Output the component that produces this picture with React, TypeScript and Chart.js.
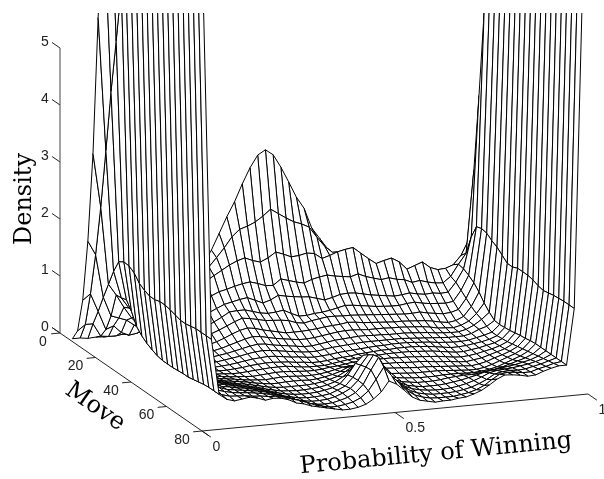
import React, { useEffect, useRef } from "react";
import { Chart, registerables } from "chart.js";

Chart.register(...registerables);

const MOVES = [7, 9.9, 12.8, 15.7, 18.6, 21.5, 24.4, 27.3, 30.2, 33.1, 36, 38.9, 41.8, 44.7, 47.6, 50.5, 53.4, 56.3, 59.2, 62.1, 65, 67.9, 70.8, 73.7, 76.6];
const PROBS = [0, .02, .04, .06, .08, .1, .12, .14, .16, .18, .2, .22, .24, .26, .28, .3, .32, .34, .36, .38, .4, .42, .44, .46, .48, .5, .52, .54, .56, .58, .6, .62, .64, .66, .68, .7, .72, .74, .76, .78, .8, .82, .84, .86, .88, .9, .92, .94, .96, .98, 1];

// density x 100, one list per move
const d00 = [5,5,3,4,3,4,5,7,10,14, 20,27,36,48,62,77,95,115,137,165, 193,218,248,275,296,304,294,271,244,216, 195,159,140,121,105,85,70,55,42,32, 25,18,13,9,6,5,5,8,15,30, 35];
const d01 = [25,35,35,12,10,10,12,15,20,27, 34,43,53,64,76,88,100,115,130,146, 164,176,180,186,195,206,197,188,180,175, 168,149,132,120,110,100,90,78,66,55, 45,37,30,24,20,18,18,25,30,55, 80];
const d02 = [85,95,63,30,35,22,16,18,23,30, 38,47,57,67,78,88,98,106,114,122, 128,132,126,122,128,137,132,126,127,130, 128,118,122,127,130,132,121,110,100,104, 107,99,85,90,95,84,79,80,85,100, 126];
const d03 = [195,170,94,60,55,50,40,30,22,23, 29,36,44,52,61,70,78,84,87,91, 94,96,92,87,86,96,92,88,85,90, 93,95,92,90,88,92,86,82,78,80, 76,74,68,70,66,63,62,72,92,110, 255];
const d04 = [355,260,123,103,80,60,45,32,22,20, 24,30,36,42,49,56,62,68,71,74, 76,70,64,68,75,72,70,68,67,63, 59,62,66,67,66,63,60,58,56,54, 55,57,54,52,53,51,52,68,90,145, 392];
const d05 = [600,365,152,104,85,70,52,38,25,18, 20,24,28,33,39,46,53,61,62,62, 58,54,52,53,55,48,42,42,44,45, 47,50,53,52,50,48,46,45,44,44, 46,47,44,42,41,40,42,60,85,169, 545];
const d06 = [800,475,175,107,85,68,52,38,26,17, 17,20,24,28,33,38,44,50,55,53, 50,47,46,45,43,38,36,39,41,43, 43,42,42,41,40,39,38,37,36,35, 35,36,33,31,29,30,34,52,78,172, 560];
const d07 = [950,570,181,92,75,60,45,33,22,15, 14,15,18,21,25,30,36,41,44,42, 38,35,32,29,29,29,30,31,33,34, 35,37,36,34,33,32,31,30,30,29, 28,27,25,22,20,22,28,44,68,170, 565];
const d08 = [1000,670,180,72,62,52,40,30,18,13, 12,13,15,17,20,24,28,32,35,34, 31,28,26,24,22,22,23,25,27,29, 30,30,29,28,28,28,27,27,26,25, 24,22,19,18,17,20,26,38,55,163, 571];
const d09 = [1050,655,174,62,56,50,32,21,15,12, 11,11,13,15,17,20,23,26,28,27, 24,22,20,18,16,16,18,20,22,23, 24,25,25,24,24,23,23,23,22,21, 20,18,17,16,16,19,25,34,45,158, 577];
const d10 = [1100,662,162,55,50,46,28,19,14,11, 10,10,11,13,15,17,20,22,23,22, 20,18,16,14,13,13,15,17,18,19, 20,21,21,21,21,21,21,20,19,18, 17,16,15,15,15,18,24,28,37,150, 583];
const d11 = [1100,668,156,50,46,42,26,18,14,11, 10,9,10,11,13,15,17,18,19,18, 16,14,13,11,10,11,12,14,15,16, 17,18,19,19,20,20,20,19,18,17, 15,14,13,13,14,17,20,24,36,142, 590];
const d12 = [1100,675,152,46,42,39,25,18,15,12, 10,9,9,10,11,13,14,15,15,14, 13,11,10,8,8,9,11,12,13,15, 16,17,18,18,19,19,19,18,17,15, 13,11,11,12,14,16,19,24,37,142, 596];
const d13 = [1100,680,152,44,41,38,25,20,16,13, 11,10,9,9,10,11,12,13,13,13, 11,9,8,8,8,10,12,14,15,16, 17,17,18,18,18,18,17,16,15,13, 11,9,9,11,13,16,19,25,38,146, 602];
const d14 = [1100,687,155,44,41,38,26,22,18,15, 13,11,10,9,8,9,10,11,11,10, 9,8,8,9,11,12,14,16,17,17, 17,17,17,16,16,15,14,13,12,10, 8,7,8,10,13,16,20,26,40,146, 608];
const d15 = [1100,693,155,44,41,38,28,24,20,17, 15,13,11,9,8,7,8,9,9,8, 7,7,8,10,13,16,17,18,17,17, 16,15,15,14,13,13,12,10,9,8, 6,5,7,9,13,17,21,28,42,146, 615];
const d16 = [1100,700,153,45,42,39,30,26,22,19, 17,15,13,10,8,6,6,7,7,7, 6,7,9,12,16,22,20,20,18,16, 14,13,12,11,10,10,9,8,7,6, 5,4,6,9,14,18,23,30,43,144, 621];
const d17 = [1100,706,150,46,43,40,32,28,25,22, 19,17,14,11,8,6,5,5,5,5, 6,8,11,15,22,30,24,21,18,14, 11,10,9,8,8,8,8,7,6,5, 4,4,6,10,15,20,25,32,45,140, 627];
const d18 = [1100,712,147,46,43,41,34,31,28,25, 22,19,16,12,9,6,5,4,4,5, 6,9,13,20,31,42,32,25,18,13, 10,8,7,6,6,6,7,7,7,6, 6,7,9,12,17,22,27,34,46,138, 633];
const d19 = [1100,718,147,48,45,42,36,34,31,28, 25,22,18,14,10,7,5,4,4,5, 7,10,16,30,49,62,42,29,20,14, 9,7,5,5,5,6,8,9,10,10, 11,13,15,18,22,26,30,36,46,140, 640];
const d20 = [1100,725,149,50,47,44,38,36,33,31, 28,25,21,16,11,8,5,4,4,5, 7,12,18,32,52,69,48,33,22,15, 9,6,4,4,4,5,7,9,12,15, 19,21,23,25,27,30,33,38,46,142, 646];
const d21 = [1100,731,151,52,48,44,39,37,35,33, 31,28,24,19,14,9,6,4,4,5, 8,13,20,33,55,75,52,36,24,15, 9,6,4,3,3,4,6,9,13,18, 24,27,28,29,31,33,36,40,46,143, 652];
const d22 = [1100,737,151,53,47,43,40,38,37,35, 33,30,27,23,18,13,8,5,4,5, 8,12,19,32,56,77,53,36,23,14, 8,5,3,3,3,4,6,9,14,20, 28,31,32,31,32,35,38,42,46,144, 658];
const d23 = [1100,743,151,53,45,41,40,39,37,36, 34,33,30,26,22,17,12,8,5,5, 7,10,16,27,46,66,50,35,21,12, 7,4,3,3,3,5,7,11,17,26, 34,36,35,33,33,37,40,44,46,144, 664];
const d24 = [1100,723,151,53,43,39,41,43,40,35, 37,36,32,25,22,17,14,11,8,5, 5,7,11,19,30,48,41,29,16,9, 6,3,4,4,6,7,11,16,24,33, 39,38,36,33,34,39,43,46,46,144, 670];
const DENSITY = [d00,d01,d02,d03,d04,d05,d06,d07,d08,d09,d10,d11,d12,d13,d14,d15,d16,d17,d18,d19,d20,d21,d22,d23,d24];

const DENSITY_TICKS = [0, 1, 2, 3, 4, 5];
const MOVE_TICKS = [0, 20, 40, 60, 80];
const PROB_TICKS = [0, 0.5, 1];
const PROB_TICK_TEXT = ["0", "0.5", "1"];

const pt = (p: number, m: number, z: number) => ({
  x: 60 + 1.775 * m + 386 * p,
  y: 333 + 1.225 * m - 37 * p - 57 * z,
});

const seg = (a: any, b: any, color = "#000") => ({
  data: [a, b],
  showLine: true,
  borderColor: color,
  borderWidth: 1,
  pointRadius: 0,
  fill: false,
  clip: 0,
});

function buildDatasets() {
  const out: any[] = [];
  const axis = "#222";
  out.push(seg(pt(0, 0, 0), pt(0, 0, 5), "#444"));
  out.push(seg(pt(0, -4.5, 0), pt(0, 84, 0), axis));
  out.push(seg(pt(0, 80, 0), pt(1, 80, 0), axis));
  DENSITY_TICKS.forEach((z) => out.push(seg(pt(0, 0, z), pt(0, -4.5, z), axis)));
  MOVE_TICKS.forEach((m) => out.push(seg(pt(0, m, 0), pt(-0.023, m, 0), axis)));
  PROB_TICKS.forEach((p) => out.push(seg(pt(p, 80, 0), pt(p, 85, 0), axis)));
  // nearest cells first: Chart.js paints the last dataset first
  for (let i = MOVES.length - 2; i >= 0; i--) {
    for (let j = 0; j < PROBS.length - 1; j++) {
      const c = (a: number, b: number) => pt(PROBS[b], MOVES[a], DENSITY[a][b] / 100);
      out.push({
        data: [c(i, j), c(i, j + 1), c(i + 1, j + 1), c(i + 1, j), c(i, j)],
        showLine: true,
        borderColor: "#000",
        borderWidth: 1,
        backgroundColor: "#fff",
        fill: "shape",
        pointRadius: 0,
        tension: 0,
        clip: 0,
      });
    }
  }
  return out;
}

const textPlugin = {
  id: "labels3d",
  afterDraw(chart: any) {
    const ctx = chart.ctx;
    ctx.save();
    ctx.fillStyle = "#222";
    ctx.textAlign = "center";
    ctx.textBaseline = "middle";
    ctx.font = "14px 'Liberation Sans'";
    DENSITY_TICKS.forEach((z) => {
      const a = pt(0, 0, z);
      ctx.fillText(String(z), a.x - 15, a.y - 6);
    });
    MOVE_TICKS.forEach((m) => {
      const a = pt(0, m, 0);
      ctx.fillText(String(m), a.x - 20 + (m === 0 ? 3 : 0), a.y + 9);
    });
    ctx.textAlign = "left";
    PROB_TICKS.forEach((p, k) => {
      const a = pt(p, 80, 0);
      ctx.fillText(PROB_TICK_TEXT[k], a.x + 10.5, a.y + 16);
    });
    ctx.textAlign = "center";
    ctx.fillStyle = "#000";
    const rot = (t: string, x: number, y: number, deg: number, font: string) => {
      ctx.save();
      ctx.translate(x, y);
      ctx.rotate((deg * Math.PI) / 180);
      ctx.font = font;
      ctx.fillText(t, 0, 0);
      ctx.restore();
    };
    rot("Density", 25, 199, -90, "24px 'DejaVu Serif'");
    rot("Move", 95, 407, 35, "24px 'DejaVu Serif'");
    rot("Probability of Winning", 436, 454, -5.5, "24px 'DejaVu Serif'");
    ctx.restore();
  },
};

export default function App() {
  const ref = useRef<HTMLCanvasElement | null>(null);
  useEffect(() => {
    const chart = new Chart(ref.current as HTMLCanvasElement, {
      type: "scatter",
      data: { datasets: buildDatasets() },
      options: {
        animation: false,
        responsive: false,
        events: [],
        layout: { padding: { top: 13, left: 0, right: 0, bottom: 0 } },
        scales: {
          x: { type: "linear", min: 0, max: 604, display: false },
          y: { type: "linear", min: 13, max: 479, reverse: true, display: false },
        },
        plugins: { legend: { display: false }, tooltip: { enabled: false }, title: { display: false } },
      },
      plugins: [textPlugin],
    } as any);
    return () => chart.destroy();
  }, []);
  return (
    <div style={{ position: "absolute", left: 0, top: 0, width: 604, height: 479, background: "#fff" }}>
      <canvas ref={ref} width={604} height={479} style={{ display: "block" }} />
    </div>
  );
}
